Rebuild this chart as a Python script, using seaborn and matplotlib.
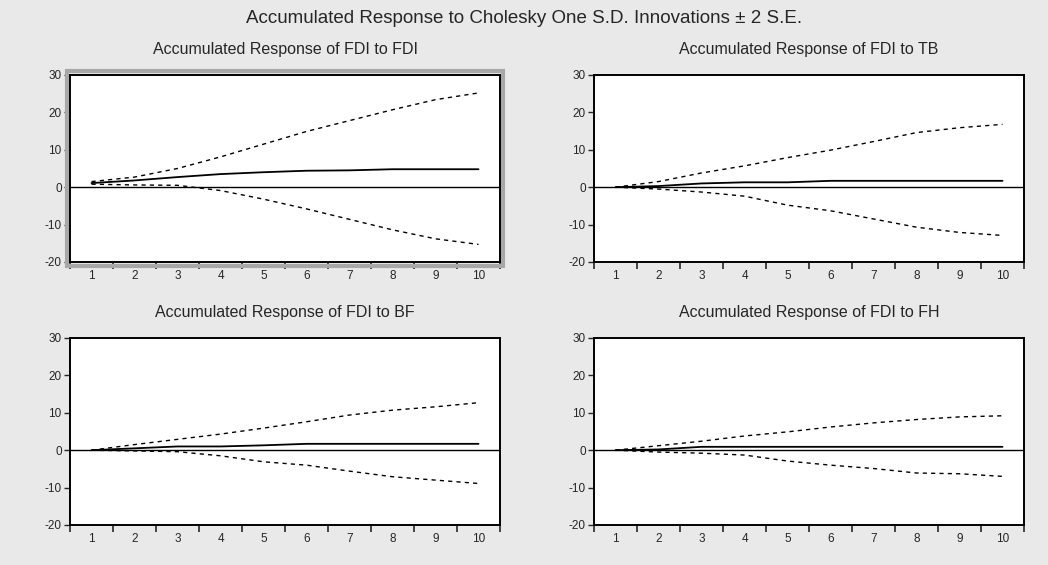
import matplotlib
matplotlib.use("Agg")
import matplotlib.pyplot as plt
from matplotlib.patches import Rectangle
import seaborn as sns
import pandas as pd

sns.set_style("ticks")
plt.rcParams["font.family"] = ["Liberation Sans", "DejaVu Sans"]
plt.rcParams["axes.unicode_minus"] = False

periods = list(range(1, 11))

# Accumulated response of FDI to FDI
fdi_resp = [1.1, 1.8, 2.7, 3.5, 4.0, 4.4, 4.5, 4.8, 4.8, 4.8]
fdi_upper = [1.5, 2.7, 5.0, 8.1, 11.5, 14.9, 17.8, 20.7, 23.4, 25.2]
fdi_lower = [0.8, 0.6, 0.5, -0.9, -3.2, -5.8, -8.6, -11.4, -13.8, -15.3]

# Accumulated response of FDI to TB
tb_resp = [0.0, 0.3, 1.0, 1.3, 1.3, 1.7, 1.7, 1.7, 1.7, 1.7]
tb_upper = [0.0, 1.5, 3.8, 5.7, 7.9, 9.9, 12.2, 14.6, 15.9, 16.8]
tb_lower = [0.0, -0.5, -1.3, -2.4, -4.8, -6.3, -8.5, -10.7, -12.1, -12.9]

# Accumulated response of FDI to BF
bf_resp = [0.0, 0.5, 1.0, 1.0, 1.3, 1.7, 1.7, 1.7, 1.7, 1.7]
bf_upper = [0.0, 1.5, 2.9, 4.3, 5.9, 7.6, 9.4, 10.7, 11.6, 12.7]
bf_lower = [0.0, -0.2, -0.4, -1.5, -3.1, -4.0, -5.6, -7.1, -8.0, -8.9]

# Accumulated response of FDI to FH
fh_resp = [0.0, 0.2, 0.9, 0.9, 0.9, 0.9, 0.9, 0.9, 0.9, 0.9]
fh_upper = [0.0, 1.2, 2.4, 3.8, 4.9, 6.2, 7.3, 8.2, 8.9, 9.2]
fh_lower = [0.0, -0.5, -0.8, -1.3, -2.9, -4.0, -4.9, -6.1, -6.3, -7.0]

titles = ["Accumulated Response of FDI to FDI", "Accumulated Response of FDI to TB",
          "Accumulated Response of FDI to BF", "Accumulated Response of FDI to FH"]
panels = [(fdi_resp, fdi_upper, fdi_lower), (tb_resp, tb_upper, tb_lower),
          (bf_resp, bf_upper, bf_lower), (fh_resp, fh_upper, fh_lower)]

bg = "#e9e9e9"
fig = plt.figure(figsize=(10.48, 5.65), dpi=100, facecolor=bg)

# axes boxes [left, bottom, width, height]
boxes = [[0.0668, 0.5363, 0.4103, 0.3310], [0.5668, 0.5363, 0.4103, 0.3310],
         [0.0668, 0.0708, 0.4103, 0.3310], [0.5668, 0.0708, 0.4103, 0.3310]]

for i, (title, (resp, up, lo)) in enumerate(zip(titles, panels)):
    ax = fig.add_axes(boxes[i])
    ax.set_facecolor("white")
    df = pd.DataFrame({"period": periods, "resp": resp, "upper": up, "lower": lo})
    sns.lineplot(data=df, x="period", y="resp", ax=ax, color="black", lw=1.3)
    sns.lineplot(data=df, x="period", y="upper", ax=ax, color="black", lw=1.0,
                 linestyle=(0, (3, 3)))
    sns.lineplot(data=df, x="period", y="lower", ax=ax, color="black", lw=1.0,
                 linestyle=(0, (3, 3)))
    ax.axhline(0, color="black", lw=1.0)
    ax.set_xlim(0.5, 10.5)
    ax.set_ylim(-20, 30)
    ax.set_yticks([-20, -10, 0, 10, 20, 30])
    ax.set_xticks(periods)
    ax.set_xticks([p + 0.5 for p in range(0, 11)], minor=True)
    ax.tick_params(axis="x", which="major", length=0, labelsize=8.5, pad=6)
    ax.tick_params(axis="x", which="minor", length=5, width=1.2, direction="out")
    ax.tick_params(axis="y", length=4, width=1, labelsize=8.5, direction="out", pad=2)
    ax.set_xlabel("")
    ax.set_ylabel("")
    for s in ax.spines.values():
        s.set_visible(True)
        s.set_linewidth(1.4)
        s.set_color("black")
    ax.set_title(title, fontsize=11.5, pad=15)
    if i == 0:
        # EViews "selected graph" frame
        ax.add_patch(Rectangle((-0.008, -0.02), 1.016, 1.04, transform=ax.transAxes,
                               fill=False, edgecolor="#a8a8a8", lw=3, clip_on=False))

fig.suptitle("Accumulated Response to Cholesky One S.D. Innovations \u00b1 2 S.E.",
             fontsize=13.5, y=0.982)

fig.savefig("out.png", dpi=100, facecolor=bg)
